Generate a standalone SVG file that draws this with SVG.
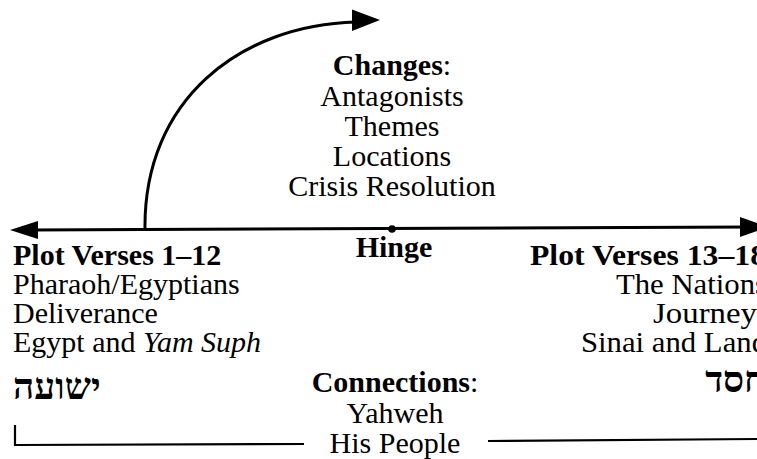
<svg xmlns="http://www.w3.org/2000/svg" width="757" height="459" viewBox="0 0 757 459">
<style>
text{font-family:"Liberation Serif","Times New Roman",serif;font-size:30px;fill:#000}
.b{font-weight:bold}
.n{font-weight:normal}
.c{text-anchor:middle}
.he{font-family:"Liberation Serif","DejaVu Sans",serif;font-size:37px;font-weight:bold}
.ln{fill:none;stroke:#000;stroke-width:3}
.thin{fill:none;stroke:#000;stroke-width:2.2}
.ah{fill:#000}
</style>
<rect width="757" height="459" fill="#fff"/>
<g id="connectors">
<path class="ln" d="M30,230 L750,227"/>
<polygon class="ah" points="10,230 38,221 38,239"/>
<polygon class="ah" points="768,227 740,217 740,237"/>
<circle cx="392" cy="229" r="3.8" fill="#000"/>
<path class="ln" d="M145,230 C143,100 240,25 356,22"/>
<polygon class="ah" points="380,20 352,9.5 352,31"/>
<path class="thin" d="M15,425 L15,445 L304,444"/>
<path class="thin" d="M488,441 L757,439"/>
</g>
<g id="changes">
<text class="c b" x="392" y="75">Changes<tspan class="n">:</tspan></text>
<text class="c" x="392" y="106">Antagonists</text>
<text class="c" x="392" y="136">Themes</text>
<text class="c" x="392" y="166">Locations</text>
<text class="c" x="392" y="196">Crisis Resolution</text>
</g>
<g id="hinge">
<text class="c b" x="394" y="257">Hinge</text>
</g>
<g id="plot-1-12">
<text class="b" x="13" y="265">Plot Verses 1–12</text>
<text x="13" y="294">Pharaoh/Egyptians</text>
<text x="13" y="323">Deliverance</text>
<text x="13" y="352">Egypt and <tspan font-style="italic">Yam Suph</tspan></text>
<text class="he" x="13" y="399" direction="rtl" text-anchor="end">ישועה</text>
</g>
<g id="plot-13-18">
<text class="b" x="530" y="265" textLength="236" lengthAdjust="spacingAndGlyphs">Plot Verses 13–18</text>
<text x="616" y="294" textLength="151" lengthAdjust="spacingAndGlyphs">The Nations</text>
<text x="653" y="323" textLength="104" lengthAdjust="spacingAndGlyphs">Journey</text>
<text x="581" y="352" textLength="186" lengthAdjust="spacingAndGlyphs">Sinai and Land</text>
<text class="he" x="766" y="392" direction="rtl" text-anchor="start">חסד</text>
</g>
<g id="connections">
<text class="c b" x="395" y="392">Connections<tspan class="n">:</tspan></text>
<text class="c" x="395" y="423">Yahweh</text>
<text class="c" x="395" y="453">His People</text>
</g>
</svg>
